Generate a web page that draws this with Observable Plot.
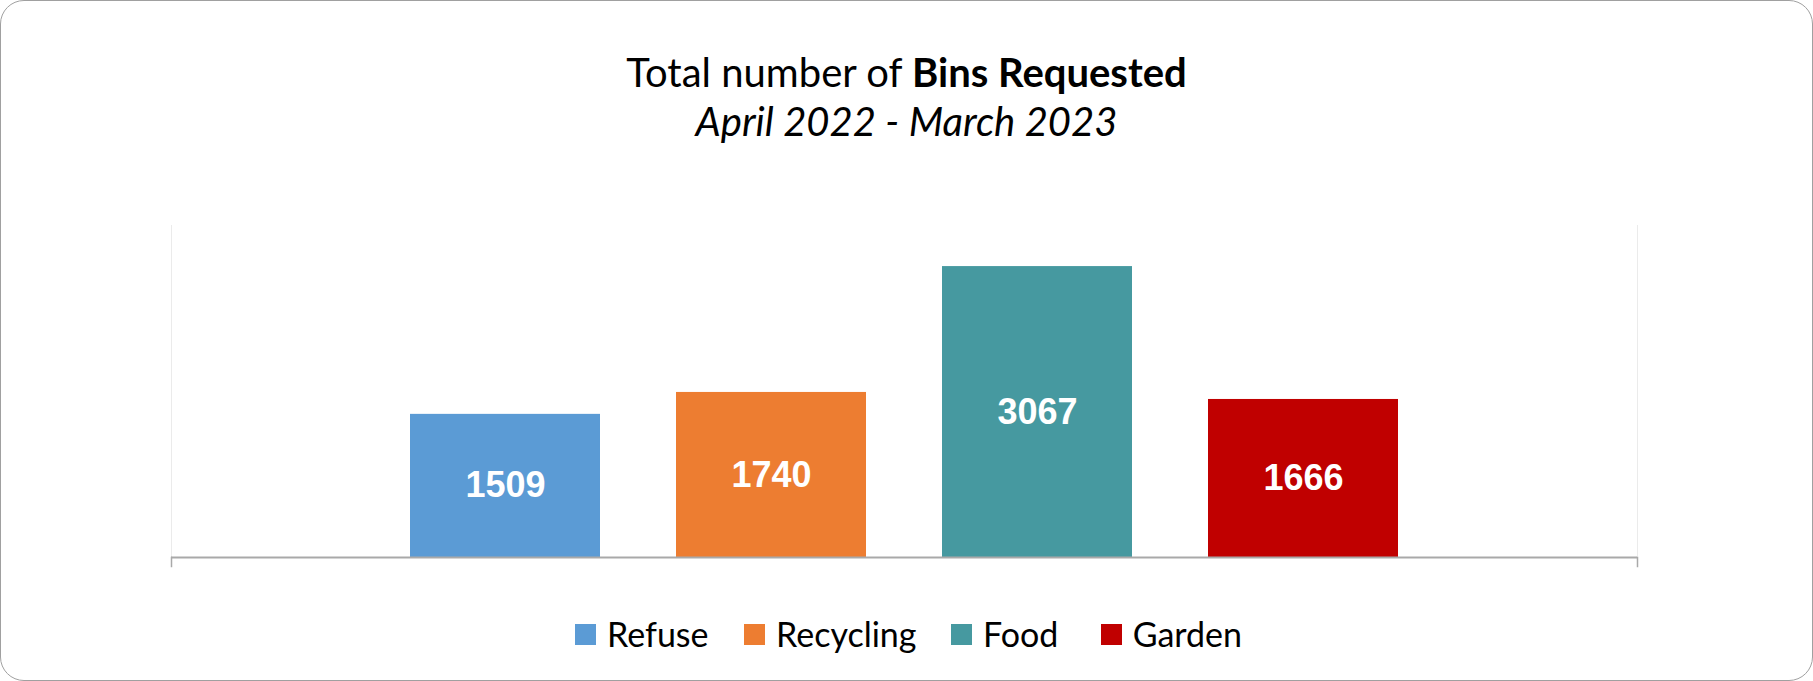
<!DOCTYPE html>
<html>
<head>
<meta charset="utf-8">
<script src="https://cdn.jsdelivr.net/npm/d3@7"></script>
<script src="https://cdn.jsdelivr.net/npm/@observablehq/plot@0.6"></script>
<style>
  html, body { margin: 0; padding: 0; background: #ffffff; }
  #wrap { position: relative; width: 1813px; height: 681px; overflow: hidden; background: #fff; }
  #border { position: absolute; left: 0; top: 0; width: 1813px; height: 681px; box-sizing: border-box;
            border: 1.5px solid #a0a0a0; border-radius: 24px; pointer-events: none; }
  #title { height: 144px; box-sizing: border-box; padding-top: 48px; text-align: center;
           font-family: Lato, "Open Sans", sans-serif; font-size: 40px; line-height: 49px; color: #000; }
  #title .sub { font-style: italic; }
  #chart svg { display: block; }
  #legend { margin-top: 27px; padding-left: 575px; display: flex; align-items: center;
            font-family: Lato, "Open Sans", sans-serif; font-size: 34px; line-height: 40px; color: #000; }
  #legend .item { display: flex; align-items: center; }
  #legend .sw { width: 21px; height: 21px; margin-right: 11px; }
</style>
</head>
<body>
<div id="wrap">
  <div id="title">
    <div>Total number of <b>Bins Requested</b></div>
    <div class="sub">April 2022 - March 2023</div>
  </div>
  <div id="chart"></div>
  <div id="legend"></div>
  <div id="border"></div>
</div>
<script>
const categories = ["Refuse", "Recycling", "Food", "Garden"];
const values = [1509, 1740, 3067, 1666];
const colors = ["#5b9bd5", "#ed7d31", "#4699a0", "#c00000"];
const yDomain = [0, 3500];

const data = categories.map((c, i) => ({category: c, value: values[i]}));

const chart = Plot.plot({
  width: 1813,
  height: 443,
  marginLeft: 171,
  marginRight: 176,
  marginTop: 81,
  marginBottom: 30,
  x: {type: "band", domain: categories, paddingInner: 0.284, paddingOuter: 0.89, axis: null},
  y: {domain: yDomain, axis: null},
  color: {domain: categories, range: colors},
  marks: [
    Plot.frame({anchor: "left", stroke: "#ebebeb", strokeWidth: 1}),
    Plot.frame({anchor: "right", stroke: "#ebebeb", strokeWidth: 1}),
    Plot.barY(data, {x: "category", y: "value", fill: "category"}),
    Plot.ruleY([0], {stroke: "#a9a9a9", strokeWidth: 2}),
    Plot.frame({anchor: "left", stroke: "#a9a9a9", strokeWidth: 1.5, insetTop: 332, insetBottom: -9}),
    Plot.frame({anchor: "right", stroke: "#a9a9a9", strokeWidth: 1.5, insetTop: 332, insetBottom: -9}),
    Plot.text(data, {
      x: "category",
      y: d => d.value / 2,
      text: d => String(d.value),
      fill: "white",
      fontSize: 36,
      fontWeight: "bold",
      fontFamily: "'Liberation Sans', Arial, sans-serif"
    })
  ]
});
document.getElementById("chart").appendChild(chart);

const legendWidths = [169, 207, 150, 141];
const legend = document.getElementById("legend");
categories.forEach((c, i) => {
  const item = document.createElement("div");
  item.className = "item";
  item.style.width = legendWidths[i] + "px";
  const sw = document.createElement("span");
  sw.className = "sw";
  sw.style.background = colors[i];
  const label = document.createElement("span");
  label.textContent = c;
  item.appendChild(sw);
  item.appendChild(label);
  legend.appendChild(item);
});
</script>
</body>
</html>
